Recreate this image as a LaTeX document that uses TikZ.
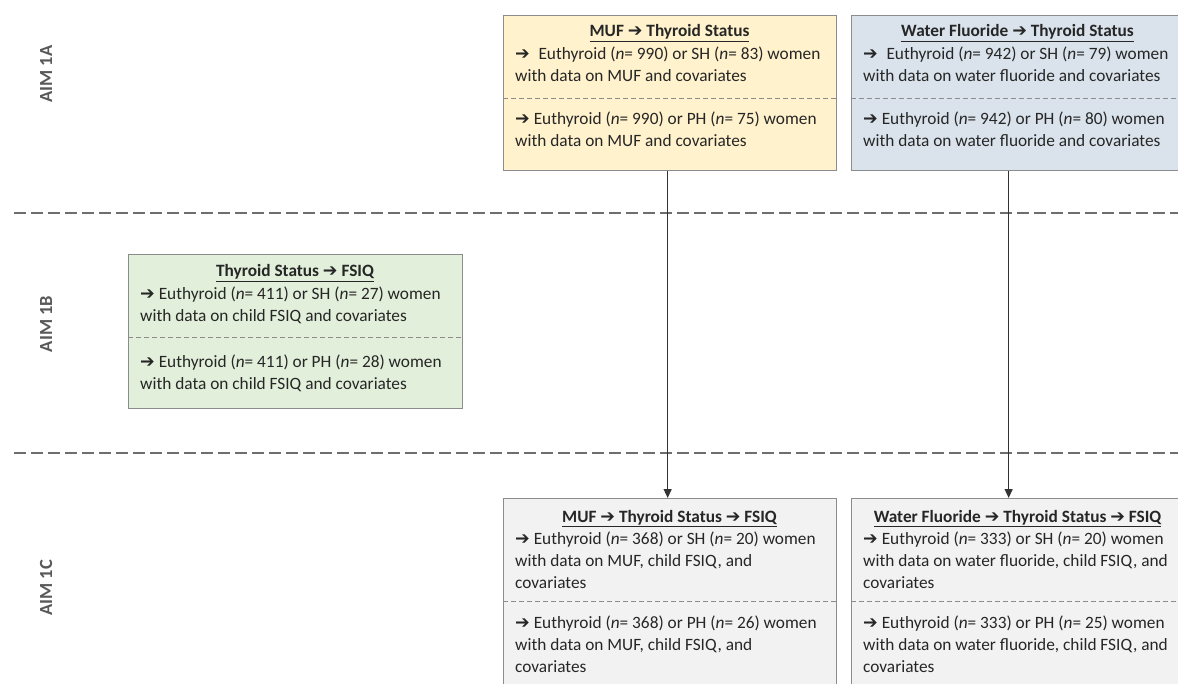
\documentclass[tikz,border=0pt]{standalone}
\usepackage{fontspec}
\setmainfont{Carlito}
\newfontfamily\arrfont{DejaVu Sans}
\usetikzlibrary{arrows.meta}
\newcommand\myarr{{\arrfont\bfseries\fontsize{17.5pt}{17.5pt}\selectfont ➔}}
\newcommand\nn{\textit{n}}
\definecolor{yellowbox}{HTML}{FFF2CC}
\definecolor{bluebox}{HTML}{DAE3EC}
\definecolor{greenbox}{HTML}{E2EFDA}
\definecolor{graybox}{HTML}{F2F2F2}
\definecolor{boxline}{HTML}{8C8C8C}
\definecolor{txt}{HTML}{262626}
\definecolor{aimcol}{HTML}{595959}
\definecolor{sepline}{HTML}{6E6E6E}
\tikzset{
  box/.style={draw=boxline, line width=1.3pt, rectangle, inner sep=0pt, anchor=north west},
  boxtext/.style={anchor=base west, inner sep=0pt, align=left, text=txt,
    font=\fontsize{17.3pt}{22pt}\selectfont},
  boxtitle/.style={anchor=base, inner sep=0pt, text=txt,
    font=\fontsize{17.3pt}{22pt}\selectfont\bfseries},
  divider/.style={draw=boxline, line width=0.9pt, dash pattern=on 5pt off 3pt},
  aimlabel/.style={rotate=90, text=aimcol, font=\fontsize{18.5pt}{18.5pt}\selectfont\bfseries},
  sepdash/.style={draw=sepline, line width=1.4pt, dash pattern=on 12pt off 5pt},
  flow/.style={draw=black!80, line width=1.3pt, -{Triangle[length=9pt,width=8pt]}}
}
\begin{document}
\begin{tikzpicture}[x=1pt,y=-1pt]
\fill[white] (0,0) rectangle (1178,684);
\clip (0,0) rectangle (1178,684);
\useasboundingbox (0,0) rectangle (1178,684);

% separators
\coordinate (s1a) at (14,213); \coordinate (s1b) at (1178,213);
\coordinate (s2a) at (14,453); \coordinate (s2b) at (1178,453);
\draw[sepdash] (s1a) -- (s1b);
\draw[sepdash] (s2a) -- (s2b);

% aim labels
\node[aimlabel] (aimA) at (46,74) {AIM 1A};
\node[aimlabel] (aimB) at (46,324) {AIM 1B};
\node[aimlabel] (aimC) at (46,588) {AIM 1C};

% AIM 1A: MUF
\node[box, fill=yellowbox, minimum width=333pt, minimum height=155pt] (muf) at (503,15) {};
\draw[divider] (503,98) -- (836,98);
\node[boxtitle] (mufT) at (669.5,37) {\underline{MUF \myarr{} Thyroid Status}};
\node[boxtext] (mufL1) at (515,82) {\myarr{}\enspace Euthyroid (\nn= 990) or SH (\nn= 83) women\\with data on MUF and covariates};
\node[boxtext] (mufL2) at (515,147) {\myarr{} Euthyroid (\nn= 990) or PH (\nn= 75) women\\with data on MUF and covariates};

% AIM 1A: Water fluoride
\node[box, fill=bluebox, minimum width=333pt, minimum height=155pt] (wf) at (851,15) {};
\draw[divider] (851,98) -- (1184,98);
\node[boxtitle] (wfT) at (1017.5,37) {\underline{Water Fluoride \myarr{} Thyroid Status}};
\node[boxtext] (wfL1) at (863,82) {\myarr{}\enspace Euthyroid (\nn= 942) or SH (\nn= 79) women\\with data on water fluoride and covariates};
\node[boxtext] (wfL2) at (863,147) {\myarr{} Euthyroid (\nn= 942) or PH (\nn= 80) women\\with data on water fluoride and covariates};

% AIM 1B
\node[box, fill=greenbox, minimum width=334pt, minimum height=154pt] (ts) at (128,254) {};
\draw[divider] (128,337) -- (462,337);
\node[boxtitle] (tsT) at (295,277) {\underline{Thyroid Status \myarr{} FSIQ}};
\node[boxtext] (tsL1) at (140,322) {\myarr{} Euthyroid (\nn= 411) or SH (\nn= 27) women\\with data on child FSIQ and covariates};
\node[boxtext] (tsL2) at (140,390) {\myarr{} Euthyroid (\nn= 411) or PH (\nn= 28) women\\with data on child FSIQ and covariates};

% AIM 1C: MUF
\node[box, fill=graybox, minimum width=333pt, minimum height=220pt] (mufc) at (503,498) {};
\draw[divider] (503,601) -- (836,601);
\node[boxtitle] (mufcT) at (669.5,522) {\underline{MUF \myarr{} Thyroid Status \myarr{} FSIQ}};
\node[boxtext] (mufcL1) at (515,588) {\myarr{} Euthyroid (\nn= 368) or SH (\nn= 20) women\\with data on MUF, child FSIQ, and\\covariates};
\node[boxtext] (mufcL2) at (515,672) {\myarr{} Euthyroid (\nn= 368) or PH (\nn= 26) women\\with data on MUF, child FSIQ, and\\covariates};

% AIM 1C: Water fluoride
\node[box, fill=graybox, minimum width=333pt, minimum height=220pt] (wfc) at (851,498) {};
\draw[divider] (851,601) -- (1184,601);
\node[boxtitle] (wfcT) at (1017.5,522) {\underline{Water Fluoride \myarr{} Thyroid Status \myarr{} FSIQ}};
\node[boxtext] (wfcL1) at (863,588) {\myarr{} Euthyroid (\nn= 333) or SH (\nn= 20) women\\with data on water fluoride, child FSIQ, and\\covariates};
\node[boxtext] (wfcL2) at (863,672) {\myarr{} Euthyroid (\nn= 333) or PH (\nn= 25) women\\with data on water fluoride, child FSIQ, and\\covariates};

% connectors
\draw[flow] ([xshift=-2.5pt]muf.south) -- ([xshift=-2.5pt]mufc.north);
\draw[flow] ([xshift=-9.5pt]wf.south) -- ([xshift=-9.5pt]wfc.north);
\end{tikzpicture}
\end{document}
